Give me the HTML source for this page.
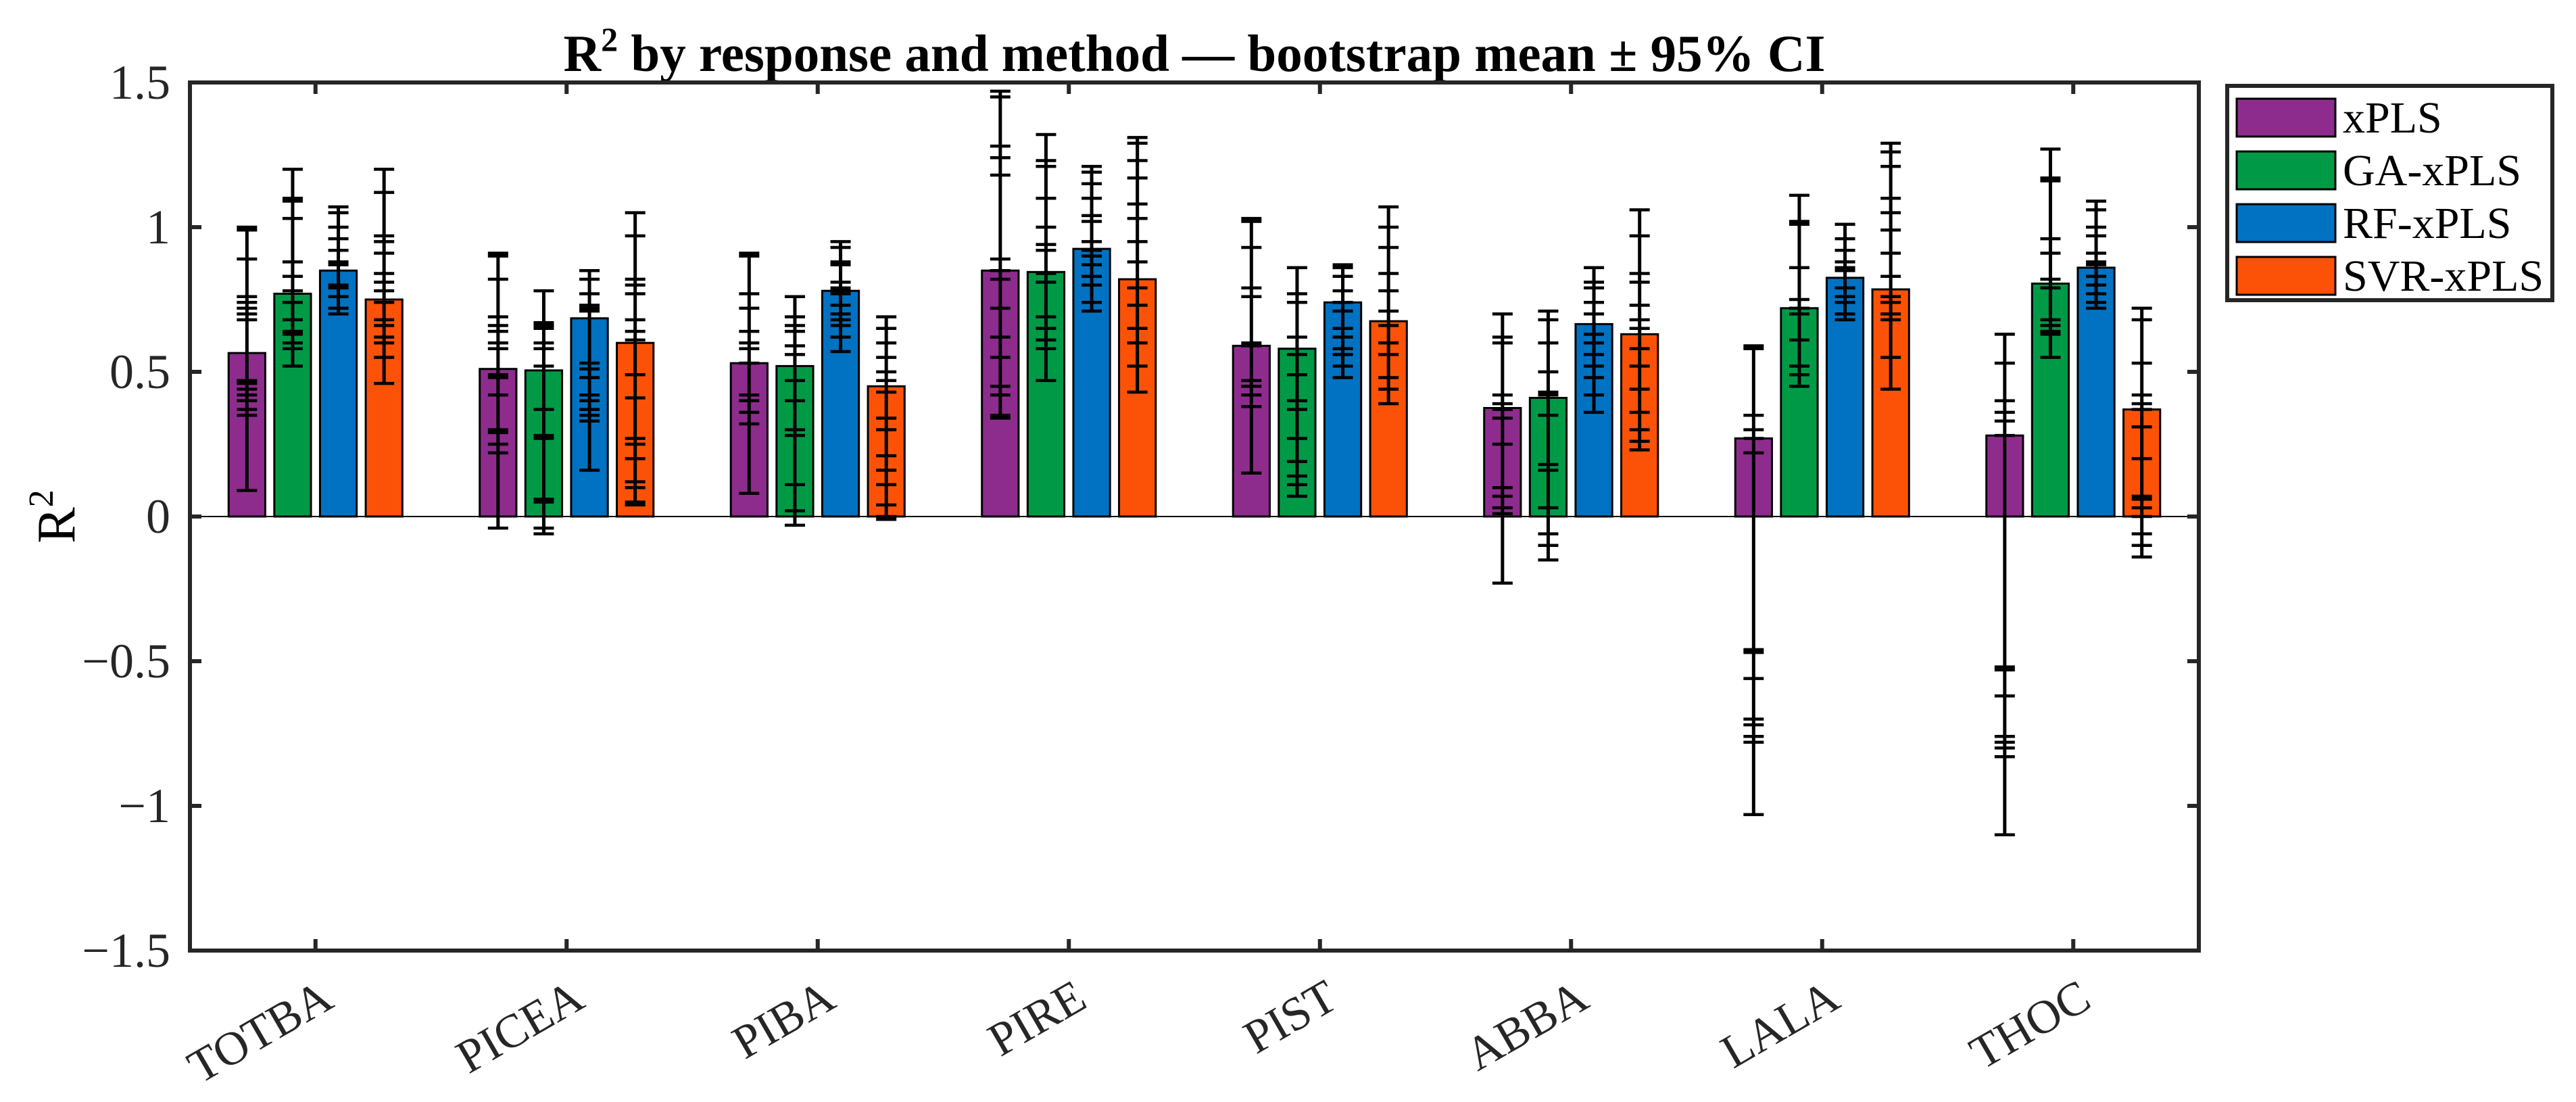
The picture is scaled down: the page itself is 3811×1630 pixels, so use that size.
<!DOCTYPE html>
<html><head><meta charset="utf-8"><style>
html,body{margin:0;padding:0;background:#fff;}
svg{display:block;font-family:"Liberation Serif","DejaVu Serif",serif;}
</style></head><body>
<svg id="chart" width="3811" height="1630" viewBox="0 0 3811 1630" xmlns="http://www.w3.org/2000/svg">
<rect width="3811" height="1630" fill="#fff"/>
<text x="1767" y="105" font-size="77" font-weight="bold" text-anchor="middle" fill="#000">R<tspan dy="-30" font-size="50">2</tspan><tspan dy="30"> by response and method — bootstrap mean ± 95% CI</tspan></text>
<text transform="translate(110,764) rotate(-90)" font-size="80" text-anchor="middle" fill="#000">R<tspan dy="-32" font-size="52">2</tspan></text>
<g id="plot"></g>
<g id="legend"></g>
</svg>
<script>
const categories = ["TOTBA","PICEA","PIBA","PIRE","PIST","ABBA","LALA","THOC"];
const methods = ["xPLS","GA-xPLS","RF-xPLS","SVR-xPLS"];
const colors = ["#8e2c8e","#009a47","#0072c1","#fc5208"];
const xplsMeans = [0.565,0.51,0.53,0.85,0.59,0.375,0.27,0.28];
const gaMeans = [0.77,0.505,0.52,0.845,0.58,0.41,0.72,0.805];
const rfMeans = [0.85,0.685,0.78,0.925,0.74,0.665,0.825,0.86];
const svrMeans = [0.75,0.60,0.45,0.82,0.675,0.63,0.785,0.37];
const xplsCI = [
 [1.0,0.99,0.89,0.76,0.74,0.72,0.70,0.68,0.47,0.46,0.44,0.42,0.40,0.37,0.35,0.09],
 [0.91,0.90,0.82,0.69,0.66,0.64,0.60,0.58,0.49,0.48,0.42,0.30,0.29,0.25,0.22,-0.04],
 [0.91,0.90,0.77,0.72,0.64,0.60,0.58,0.53,0.42,0.40,0.36,0.32,0.08],
 [1.47,1.45,1.28,1.24,1.18,0.89,0.85,0.82,0.72,0.62,0.55,0.45,0.42,0.35,0.34],
 [1.03,1.02,0.93,0.79,0.76,0.60,0.59,0.47,0.45,0.42,0.38,0.15],
 [0.70,0.62,0.60,0.42,0.39,0.37,0.34,0.25,0.10,0.07,0.03,0.01,-0.23],
 [0.59,0.58,0.35,0.30,0.27,0.22,-0.46,-0.47,-0.56,-0.70,-0.72,-0.76,-0.78,-1.03],
 [0.63,0.53,0.40,0.36,0.33,0.28,-0.52,-0.53,-0.62,-0.76,-0.78,-0.80,-0.83,-1.10]];
const gaCI = [
 [1.2,1.1,1.09,1.03,0.88,0.83,0.78,0.74,0.68,0.64,0.63,0.60,0.58,0.52],
 [0.78,0.67,0.66,0.65,0.60,0.58,0.52,0.37,0.28,0.27,0.06,0.05,-0.04,-0.06],
 [0.76,0.69,0.66,0.64,0.59,0.56,0.47,0.40,0.30,0.28,0.11,0.02,-0.03],
 [1.32,1.23,1.21,1.10,1.00,0.94,0.92,0.84,0.81,0.69,0.65,0.61,0.58,0.47],
 [0.86,0.77,0.74,0.62,0.56,0.49,0.40,0.37,0.27,0.19,0.14,0.11,0.07],
 [0.71,0.68,0.60,0.50,0.43,0.42,0.35,0.18,0.16,0.03,-0.06,-0.10,-0.15],
 [1.11,1.02,1.01,0.86,0.75,0.72,0.70,0.61,0.52,0.49,0.45],
 [1.27,1.17,1.16,0.96,0.91,0.82,0.79,0.68,0.66,0.64,0.63,0.55]];
const rfCI = [
 [1.07,1.05,1.0,0.96,0.92,0.88,0.87,0.80,0.79,0.76,0.72,0.70],
 [0.85,0.82,0.77,0.73,0.72,0.71,0.53,0.51,0.48,0.42,0.40,0.37,0.35,0.33,0.16],
 [0.95,0.93,0.88,0.87,0.81,0.79,0.78,0.77,0.73,0.70,0.68,0.66,0.62,0.57],
 [1.21,1.19,1.15,1.10,1.04,1.02,0.95,0.92,0.90,0.87,0.83,0.80,0.74,0.71],
 [0.87,0.86,0.83,0.78,0.74,0.71,0.65,0.62,0.58,0.56,0.52,0.48],
 [0.86,0.81,0.79,0.74,0.70,0.63,0.60,0.56,0.52,0.48,0.42,0.36],
 [1.01,0.96,0.92,0.88,0.86,0.85,0.79,0.76,0.74,0.70,0.68],
 [1.09,1.06,1.00,0.97,0.91,0.88,0.87,0.83,0.80,0.77,0.74,0.72]];
const svrCI = [
 [1.2,1.12,0.97,0.95,0.91,0.84,0.81,0.78,0.74,0.68,0.66,0.62,0.60,0.55,0.46],
 [1.05,0.97,0.82,0.80,0.77,0.68,0.64,0.61,0.49,0.41,0.27,0.25,0.20,0.12,0.10,0.05,0.04],
 [0.69,0.65,0.60,0.55,0.50,0.47,0.43,0.34,0.30,0.21,0.16,0.11,0.04,0.0,-0.01],
 [1.31,1.29,1.23,1.17,1.08,1.03,0.95,0.88,0.79,0.73,0.65,0.60,0.52,0.43],
 [1.07,1.00,0.93,0.84,0.78,0.71,0.66,0.60,0.56,0.48,0.44,0.39],
 [1.06,0.97,0.84,0.81,0.73,0.68,0.65,0.58,0.52,0.44,0.36,0.30,0.26,0.23],
 [1.29,1.26,1.21,1.10,1.05,0.99,0.91,0.83,0.76,0.74,0.70,0.68,0.55,0.44],
 [0.72,0.68,0.53,0.42,0.39,0.37,0.31,0.20,0.07,0.06,0.03,0.0,-0.06,-0.10,-0.14]];
const yTicks = [-1.5,-1,-0.5,0,0.5,1,1.5];
const yTickLabels = ["\u22121.5","\u22121","\u22120.5","0","0.5","1","1.5"];

const means = [xplsMeans, gaMeans, rfMeans, svrMeans];
const cis = [xplsCI, gaCI, rfCI, svrCI];
const L=281, R=3253, T=122, B=1406;
const yMin=-1.5, yMax=1.5;
function yS(v){ return B - (v - yMin) / (yMax - yMin) * (B - T); }
function xS(i){ return L + (i + 0.5) * (R - L) / categories.length; }
const groupW = (R-L)/categories.length;
const step = groupW*0.182, barW = groupW*0.146;
const NS="http://www.w3.org/2000/svg";
const plot=document.getElementById('plot');
function mk(tag, attrs, parent){ const e=document.createElementNS(NS,tag); for(const k in attrs) e.setAttribute(k,attrs[k]); (parent||plot).appendChild(e); return e; }

for(let c=0;c<categories.length;c++){
  for(let m=0;m<methods.length;m++){
    const cx = xS(c) + (m-1.5)*step;
    const v = means[m][c];
    const r = mk('rect',{x:cx-barW/2,y:Math.min(yS(v),yS(0)),width:barW,height:Math.abs(yS(v)-yS(0)),fill:colors[m],stroke:'#000','stroke-width':3});
    
    
  }
}
const zl = mk('line',{x1:L,x2:R,y1:yS(0),y2:yS(0),stroke:'#000','stroke-width':2});


for(let c=0;c<categories.length;c++){
  for(let m=0;m<methods.length;m++){
    const cx = xS(c) + (m-1.5)*step;
    const vals = cis[m][c];
    const g = mk('g',{});
    
    
    const hi=Math.max(...vals), lo=Math.min(...vals);
    mk('line',{x1:cx,x2:cx,y1:yS(hi),y2:yS(lo),stroke:'#000','stroke-width':5},g);
    for(const v of vals){ mk('line',{x1:cx-15,x2:cx+15,y1:yS(v),y2:yS(v),stroke:'#000','stroke-width':4.5},g); }
  }
}
const ax = mk('rect',{x:L,y:T,width:R-L,height:B-T,fill:'none',stroke:'#262626','stroke-width':6});


for(let i=0;i<yTicks.length;i++){
  const y=yS(yTicks[i]);
  mk('line',{x1:L,x2:L+17,y1:y,y2:y,stroke:'#262626','stroke-width':6});
  mk('line',{x1:R,x2:R-17,y1:y,y2:y,stroke:'#262626','stroke-width':6});
  const t=mk('text',{x:L-29,y:y+24,'font-size':72,'text-anchor':'end',fill:'#262626'});
  t.textContent=yTickLabels[i];
  
  
}
for(let c=0;c<categories.length;c++){
  const x=xS(c);
  mk('line',{x1:x,x2:x,y1:B,y2:B-17,stroke:'#262626','stroke-width':6});
  mk('line',{x1:x,x2:x,y1:T,y2:T+17,stroke:'#262626','stroke-width':6});
  const t=mk('text',{x:0,y:0,'font-size':70,'text-anchor':'end',fill:'#262626',transform:'translate('+(x+30)+','+(B+82)+') rotate(-30)'});
  t.textContent=categories[c];
  
  
}
const lg=document.getElementById('legend');
mk('rect',{x:3295,y:127,width:481,height:317,fill:'#fff',stroke:'#262626','stroke-width':6},lg);
for(let m=0;m<methods.length;m++){
  const y0=146+m*78;
  const e=mk('g',{},lg);
  
  
  mk('rect',{x:3309,y:y0,width:146,height:56,fill:colors[m],stroke:'#000','stroke-width':3},e);
  const t=mk('text',{x:3466,y:y0+50,'font-size':66,fill:'#000'},e);
  t.textContent=methods[m];
}
</script>
</body></html>
